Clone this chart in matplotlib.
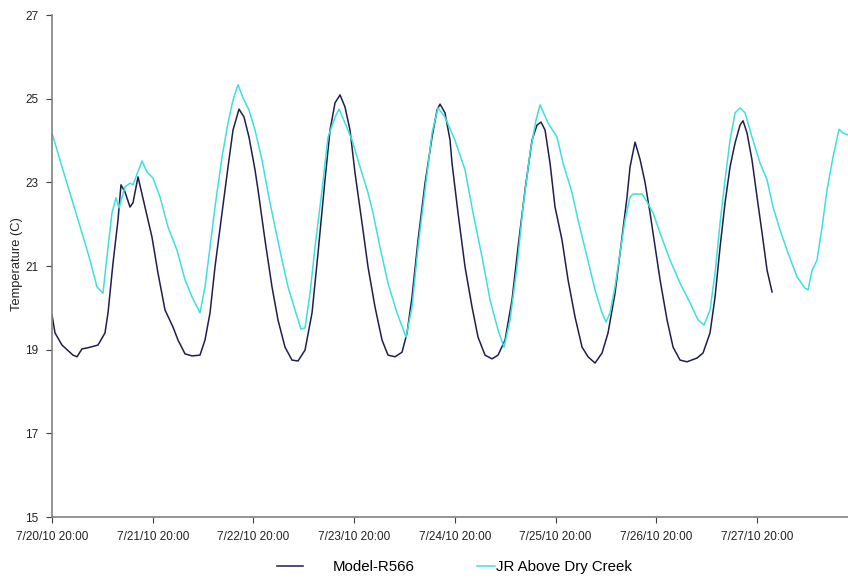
import pandas as pd
import matplotlib
matplotlib.use("Agg")
import matplotlib.pyplot as plt
import matplotlib.dates as mdates
from matplotlib.ticker import FuncFormatter

plt.rcParams['font.family'] = ['Liberation Sans', 'DejaVu Sans']

start = pd.Timestamp("2010-07-20 20:00")

# Model-R566: hours after 7/20/10 20:00, temperature (C)
model_h = [0.0, 0.72, 2.38, 5.00, 5.96, 7.15, 8.34, 10.96, 12.63, 13.35,
           14.54, 15.73, 16.44, 17.40, 18.59, 19.30, 20.50, 22.16, 23.83, 25.26,
           26.93, 28.84, 30.03, 31.70, 33.37, 35.27, 36.46, 37.66, 38.85, 40.52,
           41.95, 43.14, 44.57, 45.76, 46.95, 48.38, 49.10, 50.76, 52.43, 53.86,
           55.53, 57.20, 58.63, 60.30, 61.97, 63.40, 65.06, 66.26, 67.45, 68.64,
           69.83, 71.02, 72.22, 73.88, 75.31, 76.98, 78.65, 80.08, 81.75, 83.42,
           84.61, 85.80, 87.23, 88.90, 90.57, 91.76, 92.47, 93.66, 94.86, 95.33,
           96.76, 98.43, 100.10, 101.53, 103.20, 104.87, 106.30, 107.97, 109.63, 111.06,
           112.73, 114.40, 115.59, 116.54, 117.50, 118.69, 119.88, 121.55, 122.98, 124.65,
           126.32, 127.75, 129.42, 131.08, 132.51, 134.18, 135.85, 137.04, 137.76, 138.95,
           140.14, 141.33, 142.52, 144.91, 146.58, 148.01, 149.68, 151.34, 153.72, 155.15,
           156.82, 158.02, 159.21, 160.40, 161.59, 162.78, 163.98, 164.69, 165.64, 166.83,
           168.02, 169.22, 170.41, 171.60]
model_t = [19.83, 19.40, 19.11, 18.87, 18.83, 19.02, 19.04, 19.11, 19.40, 19.88,
           21.07, 22.10, 22.94, 22.77, 22.41, 22.51, 23.13, 22.41, 21.69, 20.83,
           19.95, 19.54, 19.23, 18.90, 18.85, 18.87, 19.23, 19.88, 20.98, 22.27,
           23.37, 24.25, 24.75, 24.56, 24.08, 23.30, 22.82, 21.62, 20.50, 19.71,
           19.06, 18.75, 18.73, 18.99, 19.88, 21.31, 23.06, 24.25, 24.90, 25.09,
           24.80, 24.25, 23.22, 22.03, 20.98, 20.02, 19.23, 18.87, 18.83, 18.94,
           19.40, 20.26, 21.62, 22.98, 24.08, 24.73, 24.87, 24.66, 24.01, 23.46,
           22.27, 20.98, 20.02, 19.30, 18.87, 18.78, 18.87, 19.23, 20.19, 21.45,
           22.82, 24.01, 24.37, 24.44, 24.25, 23.46, 22.41, 21.62, 20.67, 19.78,
           19.06, 18.83, 18.68, 18.92, 19.40, 20.35, 21.69, 22.65, 23.37, 23.96,
           23.55, 23.00, 22.27, 20.67, 19.71, 19.06, 18.75, 18.71, 18.80, 18.92,
           19.40, 20.26, 21.45, 22.51, 23.37, 23.94, 24.37, 24.47, 24.18, 23.53,
           22.65, 21.79, 20.90, 20.38]

# JR Above Dry Creek
jr_h = [0.0, 2.38, 4.77, 7.15, 9.06, 10.72, 12.15, 13.35, 14.30, 15.25,
        15.97, 17.40, 18.59, 19.30, 21.45, 22.64, 24.07, 25.74, 27.65, 29.79,
        31.70, 33.37, 35.27, 36.46, 37.66, 38.85, 40.52, 41.95, 43.14, 44.33,
        45.52, 46.95, 48.38, 50.05, 51.48, 53.15, 54.82, 56.25, 57.91, 59.34,
        60.30, 61.49, 62.68, 64.35, 65.78, 67.45, 68.40, 69.83, 71.50, 73.41,
        75.31, 76.50, 78.17, 80.08, 82.22, 84.37, 85.80, 87.23, 88.90, 90.57,
        91.99, 93.66, 96.05, 98.43, 100.34, 102.48, 104.39, 106.30, 107.73, 109.16,
        110.82, 112.25, 113.92, 115.35, 116.31, 118.21, 120.36, 121.79, 123.93, 125.36,
        127.51, 129.42, 131.08, 132.04, 132.99, 134.18, 135.37, 136.56, 137.76, 138.47,
        140.62, 141.81, 143.24, 144.91, 147.29, 149.68, 152.06, 153.97, 155.39, 156.82,
        158.02, 159.21, 160.40, 161.59, 162.78, 163.98, 165.17, 166.83, 168.74, 170.41,
        171.84, 173.51, 175.41, 177.56, 179.46, 180.18, 181.13, 182.32, 183.52, 184.71,
        186.14, 187.57, 188.52, 189.71]
jr_t = [24.18, 23.37, 22.58, 21.79, 21.14, 20.50, 20.35, 21.45, 22.27, 22.63,
        22.39, 22.89, 22.98, 22.94, 23.51, 23.25, 23.10, 22.65, 21.93, 21.38,
        20.67, 20.26, 19.88, 20.50, 21.45, 22.41, 23.61, 24.42, 24.97, 25.33,
        25.02, 24.73, 24.25, 23.53, 22.75, 21.93, 21.14, 20.50, 19.95, 19.49,
        19.52, 20.35, 21.45, 22.82, 24.08, 24.56, 24.75, 24.42, 24.01, 23.37,
        22.75, 22.27, 21.45, 20.59, 19.88, 19.30, 20.02, 21.45, 22.82, 24.18,
        24.78, 24.56, 24.00, 23.30, 22.27, 21.22, 20.19, 19.47, 19.06, 19.71,
        20.98, 22.41, 23.70, 24.49, 24.85, 24.42, 24.08, 23.46, 22.75, 22.10,
        21.22, 20.43, 19.88, 19.66, 19.88, 20.50, 21.31, 22.10, 22.65, 22.72,
        22.72, 22.53, 22.27, 21.79, 21.14, 20.59, 20.12, 19.71, 19.59, 19.95,
        20.83, 22.03, 23.06, 24.01, 24.66, 24.78, 24.66, 24.08, 23.46, 23.06,
        22.41, 21.86, 21.31, 20.74, 20.47, 20.43, 20.90, 21.14, 21.93, 22.82,
        23.61, 24.27, 24.18, 24.13]

y_ticks = [15, 17, 19, 21, 23, 25, 27]

model_x = start + pd.to_timedelta(model_h, unit="h")
jr_x = start + pd.to_timedelta(jr_h, unit="h")

fig = plt.figure(figsize=(8.48, 5.79), dpi=100)
ax = fig.add_axes([52 / 848, 1 - 517 / 579, 1 - 52 / 848, (517 - 15) / 579])

l1, = ax.plot(model_x, model_t, color="#1f1f4f", lw=1.1, label="Model-R566")
l2, = ax.plot(jr_x, jr_t, color="#3ee0dc", lw=1.1, label="JR Above Dry Creek")

ax.set_ylim(15, 27)
ax.set_yticks(y_ticks)
ax.set_xlim(start, start + pd.Timedelta(hours=189.7))
ax.xaxis.set_major_locator(mdates.HourLocator(byhour=[20]))
ax.xaxis.set_major_formatter(FuncFormatter(
    lambda v, pos: (lambda d: f"{d.month}/{d.day}/{d:%y %H:%M}")(mdates.num2date(v))))

for s in ["top", "right"]:
    ax.spines[s].set_visible(False)
for s in ["left", "bottom"]:
    ax.spines[s].set_color("#808080")
    ax.spines[s].set_linewidth(1.2)
ax.tick_params(axis="both", labelsize=8.5, length=4, color="#404040", labelcolor="#222222")
ax.tick_params(axis="y", pad=6)
ax.tick_params(axis="x", pad=6)

fig.text(17 / 848, 1 - 264 / 579, "Temperature (C)", rotation=90, fontsize=9.3,
         ha="center", va="center", color="#222222")

fig.legend(handles=[l1], loc="center left", bbox_to_anchor=(277 / 848, 1 - 567 / 579),
           frameon=False, fontsize=10.8, handlelength=1.75, handletextpad=2.0,
           borderpad=0, borderaxespad=0)
fig.legend(handles=[l2], loc="center left", bbox_to_anchor=(477 / 848, 1 - 567 / 579),
           frameon=False, fontsize=10.8, handlelength=1.2, handletextpad=0.1,
           borderpad=0, borderaxespad=0)

fig.savefig("out.png", dpi=100)
